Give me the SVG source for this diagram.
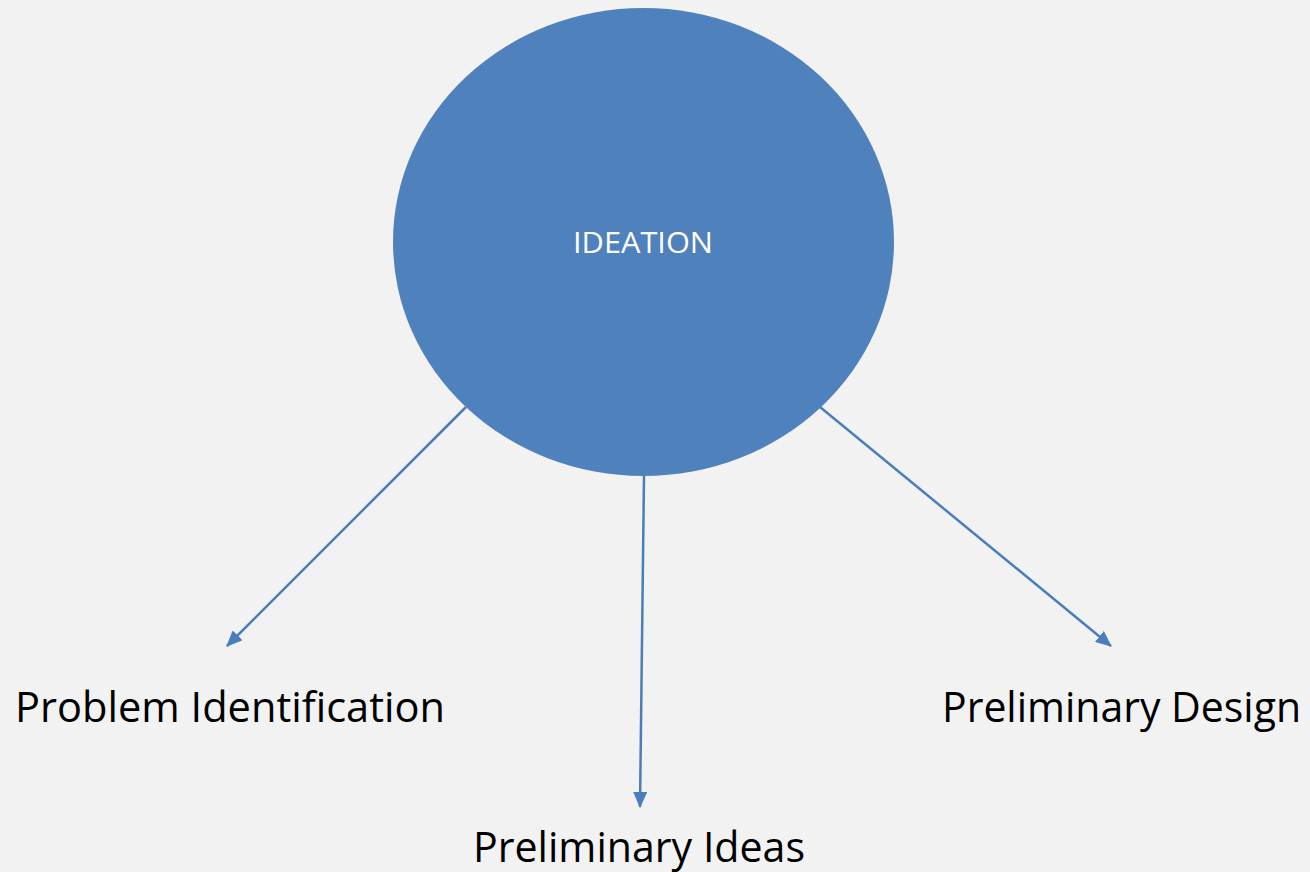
<svg xmlns="http://www.w3.org/2000/svg" width="1310" height="872" viewBox="0 0 1310 872">
<style>
.lbl{font-family:"Open Sans","Liberation Sans",sans-serif;font-size:42px;fill:#000}
.conn{stroke:#4a7ebb;stroke-width:2.5;fill:none;marker-end:url(#arr)}
</style>
<defs>
<marker id="arr" markerUnits="userSpaceOnUse" markerWidth="16" markerHeight="14" refX="15" refY="7" orient="auto">
<path d="M0,0 L16,7 L0,14 Z" fill="#4a7ebb"/>
</marker>
</defs>
<rect width="1310" height="872" fill="#f2f2f2"/>
<g id="connectors">
<line class="conn" x1="466" y1="407" x2="227" y2="646"/>
<line class="conn" x1="644" y1="476" x2="640" y2="807"/>
<line class="conn" x1="820" y1="407" x2="1111" y2="646"/>
</g>
<g id="ideation">
<ellipse cx="643.5" cy="242" rx="250.5" ry="234" fill="#4f81bd"/>
<text x="643" y="253" text-anchor="middle" font-family="Open Sans, Liberation Sans, sans-serif" font-size="29" fill="#fff" textLength="140" lengthAdjust="spacingAndGlyphs">IDEATION</text>
</g>
<g id="problem-identification">
<text class="lbl" x="15" y="722" textLength="430" lengthAdjust="spacingAndGlyphs">Problem Identification</text>
</g>
<g id="preliminary-ideas">
<text class="lbl" x="473" y="862" textLength="332" lengthAdjust="spacingAndGlyphs">Preliminary Ideas</text>
</g>
<g id="preliminary-design">
<text class="lbl" x="942" y="722" textLength="359" lengthAdjust="spacingAndGlyphs">Preliminary Design</text>
</g>
</svg>
